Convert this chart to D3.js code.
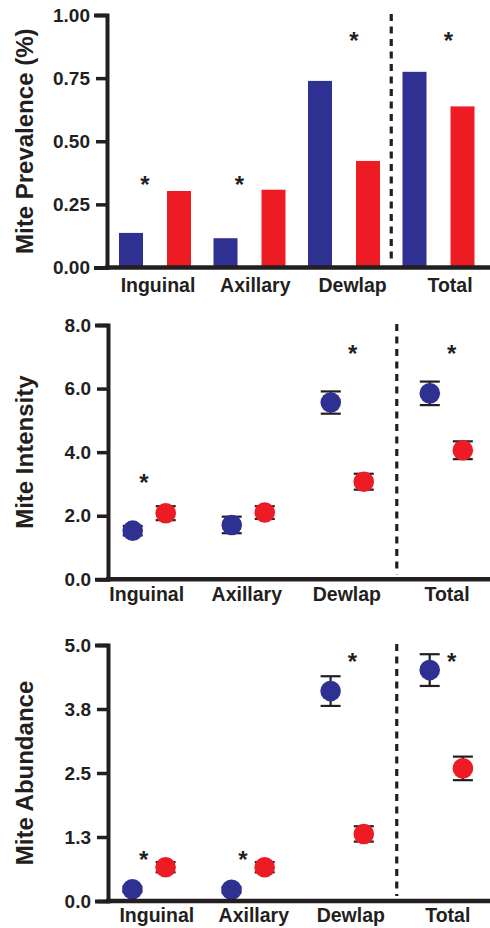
<!DOCTYPE html>
<html>
<head>
<meta charset="utf-8">
<script src="https://cdn.jsdelivr.net/npm/d3@7"></script>
<style>
  html, body { margin: 0; padding: 0; background: #fff; }
  svg { display: block; }
  text { font-family: "Liberation Sans", Arial, Helvetica, sans-serif; font-weight: bold; fill: #231F20; }
</style>
</head>
<body>
<svg id="chart" width="490" height="928"></svg>
<script>
// ---------- data ----------
const categories = ["Inguinal", "Axillary", "Dewlap", "Total"];

// Panel A: prevalence (bars)
const prevalenceBlue = [0.137, 0.116, 0.739, 0.775];
const prevalenceRed  = [0.303, 0.308, 0.422, 0.638];
const prevalenceTicks = [0, 0.25, 0.5, 0.75, 1.0];
const prevalenceTickLabels = ["0.00", "0.25", "0.50", "0.75", "1.00"];
const prevalenceSigCats = ["Inguinal", "Axillary", "Dewlap", "Total"];
const prevalenceSigY = [0.348, 0.348, 0.917, 0.917];

// Panel B: intensity (mean ± error)
const intensityBlue = [1.53, 1.71, 5.56, 5.85];
const intensityBlueErr = [0.15, 0.26, 0.35, 0.37];
const intensityRed = [2.08, 2.10, 3.07, 4.06];
const intensityRedErr = [0.22, 0.20, 0.25, 0.28];
const intensityTicks = [0, 2, 4, 6, 8];
const intensityTickLabels = ["0.0", "2.0", "4.0", "6.0", "8.0"];
const intensitySigCats = ["Inguinal", "Dewlap", "Total"];
const intensitySigY = [3.18, 7.24, 7.24];

// Panel C: abundance (mean ± error)
const abundanceBlue = [0.23, 0.22, 4.10, 4.51];
const abundanceBlueErr = [0.05, 0.05, 0.29, 0.31];
const abundanceRed = [0.66, 0.66, 1.31, 2.59];
const abundanceRedErr = [0.10, 0.10, 0.15, 0.23];
const abundanceTicks = [0, 1.25, 2.5, 3.75, 5.0];
const abundanceTickLabels = ["0.0", "1.3", "2.5", "3.8", "5.0"];
const abundanceSigCats = ["Inguinal", "Axillary", "Dewlap", "Total"];
const abundanceSigY = [0.90, 0.90, 4.77, 4.77];

// ---------- style ----------
const BLUE = "#2E3192";
const RED = "#ED1C24";
const INK = "#231F20";

const svg = d3.select("#chart");

function drawPanel(cfg) {
  const g = svg.append("g");
  const y = d3.scaleLinear().domain(cfg.domain).range(cfg.yRange);
  const xg = d3.scalePoint().domain(categories).range(cfg.groupRange);
  const xl = d3.scalePoint().domain(categories).range(cfg.labelRange);

  // dashed separator between Dewlap and Total
  const sepX = ((xg("Dewlap") + cfg.offset) + (xg("Total") - cfg.offset)) / 2;
  g.append("line")
    .attr("x1", sepX).attr("x2", sepX)
    .attr("y1", y(cfg.domain[1]) - 1).attr("y2", y(0) - 5)
    .attr("stroke", INK).attr("stroke-width", 3.2)
    .attr("stroke-dasharray", "7,5.5");

  const series = [
    { vals: cfg.blue, errs: cfg.blueErr, color: BLUE, dx: -cfg.offset },
    { vals: cfg.red, errs: cfg.redErr, color: RED, dx: cfg.offset }
  ];

  if (cfg.type === "bar") {
    series.forEach(s => {
      g.selectAll(null).data(categories).enter().append("rect")
        .attr("x", (c) => xg(c) + s.dx - cfg.barWidth / 2)
        .attr("width", cfg.barWidth)
        .attr("y", (c, i) => y(s.vals[i]))
        .attr("height", (c, i) => y(0) - y(s.vals[i]))
        .attr("fill", s.color);
    });
  } else {
    series.forEach(s => {
      const eg = g.append("g");
      categories.forEach((c, i) => {
        const cx = xg(c) + s.dx;
        const lo = y(s.vals[i] - s.errs[i]);
        const hi = y(s.vals[i] + s.errs[i]);
        eg.append("line").attr("x1", cx).attr("x2", cx).attr("y1", lo).attr("y2", hi)
          .attr("stroke", INK).attr("stroke-width", 2.2);
        [lo, hi].forEach(yy => {
          eg.append("line").attr("x1", cx - 10).attr("x2", cx + 10).attr("y1", yy).attr("y2", yy)
            .attr("stroke", INK).attr("stroke-width", 2.2);
        });
      });
    });
    series.forEach(s => {
      g.selectAll(null).data(categories).enter().append("circle")
        .attr("cx", (c) => xg(c) + s.dx)
        .attr("cy", (c, i) => y(s.vals[i]))
        .attr("r", 10.3)
        .attr("fill", s.color);
    });
  }

  // x axis baseline
  g.append("line")
    .attr("x1", cfg.axisX - 2).attr("x2", 490)
    .attr("y1", y(0)).attr("y2", y(0))
    .attr("stroke", INK).attr("stroke-width", 4.5);

  // y axis
  const axis = d3.axisLeft(y)
    .tickValues(cfg.ticks)
    .tickFormat((d, i) => cfg.tickLabels[i])
    .tickSizeOuter(0)
    .tickSize(11)
    .tickPadding(6);
  const ag = g.append("g").attr("transform", `translate(${cfg.axisX},0)`).call(axis);
  ag.select(".domain").attr("stroke", INK).attr("stroke-width", 4).attr("stroke-linecap", "square");
  ag.selectAll(".tick line").attr("stroke", INK).attr("stroke-width", 3.5);
  ag.selectAll(".tick text")
    .attr("font-size", 19)
    .attr("font-family", '"Liberation Sans", Arial, Helvetica, sans-serif')
    .attr("font-weight", "bold")
    .attr("fill", INK);

  // category labels
  g.selectAll(null).data(categories).enter().append("text")
    .attr("x", (c) => xl(c))
    .attr("y", cfg.labelY)
    .attr("text-anchor", "middle")
    .attr("font-size", 19.5)
    .text(c => c);

  // y title
  g.append("text")
    .attr("transform", `translate(${cfg.titleX},${(cfg.yRange[0] + cfg.yRange[1]) / 2}) rotate(-90)`)
    .attr("text-anchor", "middle")
    .attr("font-size", 24)
    .text(cfg.title);

  // significance asterisks
  g.selectAll(null).data(cfg.sigCats).enter().append("text")
    .attr("x", (c) => xg(c) + (categories.indexOf(c) < 2 ? -cfg.sigShift : cfg.sigShift))
    .attr("y", (c, i) => y(cfg.sigY[i]) + 13)
    .attr("text-anchor", "middle")
    .attr("font-size", 24)
    .text("*");
}

drawPanel({
  type: "bar", domain: [0, 1], yRange: [267.5, 15],
  groupRange: [155, 438.5], offset: 24, barWidth: 24,
  labelRange: [158, 450], labelY: 292, axisX: 107, titleX: 32.5,
  blue: prevalenceBlue, red: prevalenceRed,
  ticks: prevalenceTicks, tickLabels: prevalenceTickLabels,
  title: "Mite Prevalence (%)",
  sigCats: prevalenceSigCats, sigY: prevalenceSigY, sigShift: 10
});

drawPanel({
  type: "dot", domain: [0, 8], yRange: [579.3, 325],
  groupRange: [149.2, 446.3], offset: 16.5,
  labelRange: [146.7, 447], labelY: 601, axisX: 108, titleX: 33,
  blue: intensityBlue, blueErr: intensityBlueErr, red: intensityRed, redErr: intensityRedErr,
  ticks: intensityTicks, tickLabels: intensityTickLabels,
  title: "Mite Intensity",
  sigCats: intensitySigCats, sigY: intensitySigY, sigShift: 5.3
});

drawPanel({
  type: "dot", domain: [0, 5], yRange: [901, 645],
  groupRange: [149, 446.3], offset: 16.6,
  labelRange: [156.8, 447.8], labelY: 921.5, axisX: 108, titleX: 33.3,
  blue: abundanceBlue, blueErr: abundanceBlueErr, red: abundanceRed, redErr: abundanceRedErr,
  ticks: abundanceTicks, tickLabels: abundanceTickLabels,
  title: "Mite Abundance",
  sigCats: abundanceSigCats, sigY: abundanceSigY, sigShift: 5.3
});
</script>
</body>
</html>
